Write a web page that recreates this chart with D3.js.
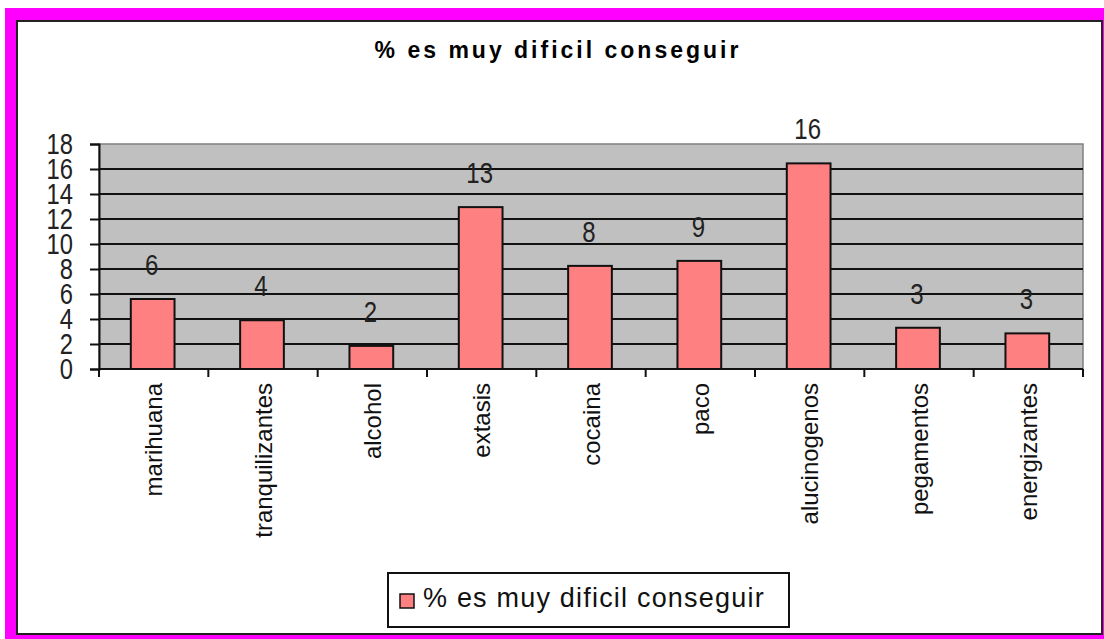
<!DOCTYPE html>
<html lang="es">
<head>
<meta charset="utf-8">
<title>% es muy dificil conseguir</title>
<script src="https://d3js.org/d3.v7.min.js"></script>
<style>
  body { margin: 0; background: #fff; }
  svg text { font-family: "Liberation Sans", Arial, sans-serif; }
</style>
</head>
<body>
<div id="chart"></div>
<script>
// data
var categories = ["marihuana", "tranquilizantes", "alcohol", "extasis", "cocaina", "paco", "alucinogenos", "pegamentos", "energizantes"];
var values = [5.6, 3.9, 1.85, 12.95, 8.25, 8.65, 16.45, 3.3, 2.85];
var valueLabels = ["6", "4", "2", "13", "8", "9", "16", "3", "3"];
var yTicks = [0, 2, 4, 6, 8, 10, 12, 14, 16, 18];
var title = "% es muy dificil conseguir";
var seriesName = "% es muy dificil conseguir";

var w = 1104, h = 639;
var plot = { left: 99, right: 1083, top: 144, bottom: 369 };

var svg = d3.select("#chart").append("svg")
  .attr("width", w)
  .attr("height", h);

// magenta frame and white chart area
svg.append("rect").attr("x", 5).attr("y", 8).attr("width", w - 5).attr("height", h - 8).attr("fill", "#ff00ff");
svg.append("rect").attr("x", 17).attr("y", 21).attr("width", 1085).attr("height", 613)
  .attr("fill", "#fff").attr("stroke", "#222").attr("stroke-width", 2);

// title
svg.append("text")
  .attr("x", 558).attr("y", 58)
  .attr("text-anchor", "middle")
  .attr("font-size", 23).attr("font-weight", "bold")
  .attr("letter-spacing", 3)
  .text(title);

var x = d3.scaleBand().domain(categories).range([plot.left, plot.right]).padding(0);
var y = d3.scaleLinear().domain([0, 18]).range([plot.bottom, plot.top]);

// plot area
svg.append("rect")
  .attr("x", plot.left).attr("y", plot.top)
  .attr("width", plot.right - plot.left).attr("height", plot.bottom - plot.top)
  .attr("fill", "#c0c0c0").attr("stroke", "#808080").attr("stroke-width", 1.5);

// gridlines
svg.append("g").selectAll("line")
  .data(yTicks.filter(function(d) { return d > 0 && d < 18; }))
  .enter().append("line")
  .attr("x1", plot.left).attr("x2", plot.right)
  .attr("y1", function(d) { return y(d); }).attr("y2", function(d) { return y(d); })
  .attr("stroke", "#111").attr("stroke-width", 2);

// y axis
var yAxis = svg.append("g")
  .attr("transform", "translate(" + plot.left + ",0)")
  .call(d3.axisLeft(y).tickValues(yTicks).tickSize(9).tickPadding(0).tickFormat(function(d) { return ""; }));
yAxis.select(".domain").attr("stroke", "#111").attr("stroke-width", 2);
yAxis.selectAll(".tick line").attr("stroke", "#111").attr("stroke-width", 2);

svg.append("g").selectAll("text")
  .data(yTicks)
  .enter().append("text")
  .attr("transform", function(d) { return "translate(73," + y(d) + ") scale(1.08,1.3)"; })
  .attr("text-anchor", "end")
  .attr("dy", "0.36em")
  .attr("font-size", 22)
  .attr("fill", "#222")
  .text(function(d) { return d; });

// bars
var barW = x.bandwidth() * 0.4;
svg.append("g").selectAll("rect")
  .data(values)
  .enter().append("rect")
  .attr("x", function(d, i) { return x(categories[i]) + x.bandwidth() / 2 - barW / 2 - 1; })
  .attr("y", function(d) { return y(d); })
  .attr("width", barW)
  .attr("height", function(d) { return y(0) - y(d); })
  .attr("fill", "#ff8080").attr("stroke", "#111").attr("stroke-width", 2);

// x axis
var xAxis = svg.append("g")
  .attr("transform", "translate(0," + plot.bottom + ")");
xAxis.append("line")
  .attr("x1", plot.left).attr("x2", plot.right)
  .attr("stroke", "#111").attr("stroke-width", 2);
xAxis.selectAll("line.tk")
  .data(categories.map(function(c) { return x(c); }).concat([plot.right]))
  .enter().append("line").attr("class", "tk")
  .attr("x1", function(d) { return d; }).attr("x2", function(d) { return d; })
  .attr("y1", 0).attr("y2", 8)
  .attr("stroke", "#111").attr("stroke-width", 2);

svg.append("g").selectAll("text")
  .data(categories)
  .enter().append("text")
  .attr("transform", function(d) { return "translate(" + (x(d) + x.bandwidth() / 2) + ",383) rotate(-90)"; })
  .attr("text-anchor", "end")
  .attr("dy", "0.36em")
  .attr("font-size", 24)
  .attr("fill", "#111")
  .text(function(d) { return d; });

// value labels
svg.append("g").selectAll("text")
  .data(values)
  .enter().append("text")
  .attr("transform", function(d, i) { return "translate(" + (x(categories[i]) + x.bandwidth() / 2 - 2) + "," + (y(d) - 24) + ") scale(1,1.2)"; })
  .attr("text-anchor", "middle")
  .attr("font-size", 24)
  .attr("fill", "#222")
  .text(function(d, i) { return valueLabels[i]; });

// legend
var legend = svg.append("g");
legend.append("rect")
  .attr("x", 388).attr("y", 573).attr("width", 401).attr("height", 54)
  .attr("fill", "#fff").attr("stroke", "#111").attr("stroke-width", 2);
legend.append("rect")
  .attr("x", 400).attr("y", 594).attr("width", 14).attr("height", 14)
  .attr("fill", "#ff8080").attr("stroke", "#111").attr("stroke-width", 1.5);
legend.append("text")
  .attr("x", 423).attr("y", 607)
  .attr("font-size", 27)
  .attr("letter-spacing", 1.2)
  .attr("fill", "#111")
  .text(seriesName);
</script>
</body>
</html>
